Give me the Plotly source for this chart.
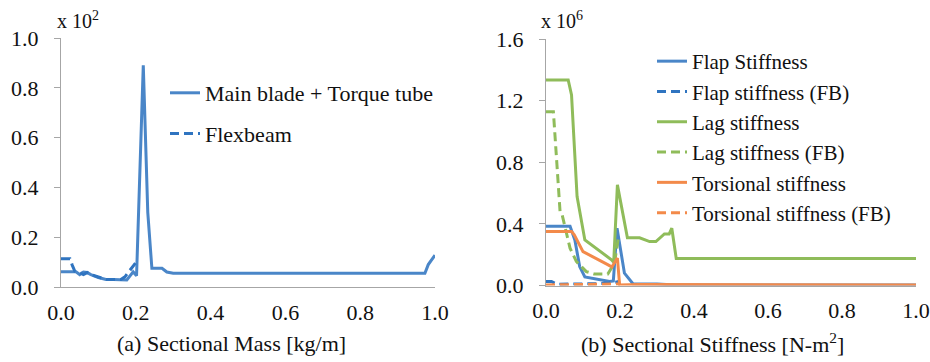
import plotly.graph_objects as go

# ---- (a) sectional mass, values in units of x10^2 kg/m ----
mass_main_r = [0.0, 0.04, 0.05, 0.06, 0.07, 0.08, 0.10, 0.12, 0.14, 0.16, 0.176,
               0.193, 0.202, 0.22, 0.232, 0.243, 0.27, 0.283, 0.30, 0.973, 0.982, 1.0]
mass_main = [0.061, 0.061, 0.05, 0.06, 0.058, 0.05, 0.038, 0.03, 0.03, 0.03, 0.028,
             0.061, 0.045, 0.89, 0.30, 0.075, 0.075, 0.06, 0.055, 0.055, 0.09, 0.128]

mass_flex_r = [0.0, 0.024, 0.03, 0.037, 0.05, 0.06, 0.07, 0.08, 0.10, 0.12, 0.14,
               0.16, 0.171, 0.18, 0.193, 0.20]
mass_flex = [0.113, 0.113, 0.088, 0.063, 0.058, 0.05, 0.058, 0.05, 0.04, 0.03, 0.03,
             0.03, 0.041, 0.06, 0.088, 0.098]

# ---- (b) sectional stiffness, values in units of x10^6 N-m^2 ----
flap_r = [0.0, 0.065, 0.078, 0.091, 0.105, 0.172, 0.182, 0.192, 0.212, 0.226, 0.235,
          0.30, 0.342, 0.35, 1.0]
flap = [0.385, 0.385, 0.296, 0.123, 0.055, 0.026, 0.03, 0.372, 0.08, 0.04, 0.012,
        0.01, 0.008, 0.003, 0.003]

flap_fb_r = [0.0, 0.015, 0.03, 0.06, 0.10, 0.14, 0.17, 0.19, 0.20]
flap_fb = [0.026, 0.026, 0.008, 0.008, 0.008, 0.012, 0.016, 0.022, 0.03]

lag_r = [0.0, 0.06, 0.069, 0.084, 0.105, 0.177, 0.183, 0.193, 0.22, 0.253, 0.28,
         0.297, 0.32, 0.333, 0.34, 0.352, 1.0]
lag = [1.334, 1.334, 1.237, 0.577, 0.296, 0.167, 0.15, 0.653, 0.31, 0.31, 0.285,
       0.285, 0.335, 0.335, 0.372, 0.175, 0.175]

lag_fb_r = [0.0, 0.02, 0.038, 0.043, 0.065, 0.082, 0.109, 0.13, 0.167, 0.185, 0.195]
lag_fb = [1.128, 1.128, 0.48, 0.465, 0.242, 0.156, 0.09, 0.075, 0.075, 0.145, 0.30]

tors_r = [0.0, 0.069, 0.076, 0.10, 0.168, 0.178, 0.193, 0.199, 0.25, 1.0]
tors = [0.35, 0.35, 0.33, 0.22, 0.134, 0.12, 0.178, 0.003, 0.006, 0.004]

tors_fb_r = [0.0, 0.05, 0.10, 0.15, 0.20]
tors_fb = [0.004, 0.004, 0.006, 0.008, 0.01]

x_ticks = [0.0, 0.2, 0.4, 0.6, 0.8, 1.0]
x_ticklabels = ["0.0", "0.2", "0.4", "0.6", "0.8", "1.0"]
mass_ticks = [0.0, 0.2, 0.4, 0.6, 0.8, 1.0]
stiff_ticks = [0.0, 0.4, 0.8, 1.2, 1.6]

BLUE = "#4a86c8"
BLUE_D = "#2f74c0"
GREEN = "#8fbc5a"
ORANGE = "#f38a4a"
AXIS = "#a6a6a6"
FONT = "Liberation Serif"
TXT = "#111111"
FS = 22
LW = 3
DASH = "9px,5px"

W, H = 930, 362


def px_x(p):
    return p / W


def px_y(p):
    return 1 - p / H


fig = go.Figure()

fig.add_trace(go.Scatter(x=mass_main_r, y=mass_main, mode="lines",
                         name="Main blade + Torque tube", legendgroup="a1",
                         line=dict(color=BLUE, width=LW), xaxis="x", yaxis="y",
                         legend="legend"))
fig.add_trace(go.Scatter(x=mass_flex_r, y=mass_flex, mode="lines",
                         name="Flexbeam", legendgroup="a2",
                         line=dict(color=BLUE_D, width=LW, dash=DASH),
                         xaxis="x", yaxis="y", legend="legend"))

stiff_series = [
    ("Flap Stiffness", flap_r, flap, BLUE, "solid"),
    ("Flap stiffness (FB)", flap_fb_r, flap_fb, BLUE_D, DASH),
    ("Lag stiffness", lag_r, lag, GREEN, "solid"),
    ("Lag stiffness (FB)", lag_fb_r, lag_fb, GREEN, DASH),
    ("Torsional stiffness", tors_r, tors, ORANGE, "solid"),
    ("Torsional stiffness (FB)", tors_fb_r, tors_fb, ORANGE, DASH),
]
for name, xr, yv, col, dash in stiff_series:
    fig.add_trace(go.Scatter(x=xr, y=yv, mode="lines", name=name,
                             line=dict(color=col, width=LW, dash=dash),
                             xaxis="x2", yaxis="y2", legend="legend2"))

tick_font = dict(family=FONT, size=FS, color=TXT)

common_x = dict(range=[0, 1.0], tickvals=x_ticks, ticktext=x_ticklabels,
                showline=True, linecolor=AXIS, linewidth=1.3, showgrid=False,
                zeroline=False, ticks="", tickfont=tick_font, automargin=False,
                ticklabelstandoff=5, fixedrange=True)
common_y = dict(showline=True, linecolor=AXIS, linewidth=1.3, showgrid=False,
                zeroline=False, ticks="outside", ticklen=6, tickcolor=AXIS,
                tickwidth=1.3, tickfont=tick_font, tickformat=".1f",
                automargin=False, ticklabelstandoff=11, fixedrange=True)

fig.update_layout(
    width=W, height=H,
    margin=dict(l=0, r=0, t=0, b=0),
    paper_bgcolor="white", plot_bgcolor="white",
    font=dict(family=FONT, size=FS, color=TXT),
    xaxis=dict(domain=[px_x(61), px_x(435)], anchor="y", **common_x),
    yaxis=dict(domain=[px_y(287), px_y(38)], anchor="x", range=[0, 1.0],
               tickvals=mass_ticks, **common_y),
    xaxis2=dict(domain=[px_x(546), px_x(916)], anchor="y2", **common_x),
    yaxis2=dict(domain=[px_y(285.5), px_y(39)], anchor="x2", range=[0, 1.6],
                tickvals=stiff_ticks, **common_y),
    legend=dict(x=px_x(165), y=px_y(72), xanchor="left", yanchor="top",
                bgcolor="rgba(0,0,0,0)", borderwidth=0,
                font=dict(family=FONT, size=FS, color=TXT),
                traceorder="grouped", tracegroupgap=9, itemwidth=30),
    legend2=dict(x=px_x(652), y=px_y(41), xanchor="left", yanchor="top",
                 bgcolor="rgba(0,0,0,0)", borderwidth=0,
                 font=dict(family=FONT, size=21, color=TXT),
                 traceorder="normal", itemwidth=30),
    showlegend=True,
    annotations=[
        dict(text="x 10<sup>2</sup>", x=px_x(55), y=px_y(20), xref="paper",
             yref="paper", xanchor="left", yanchor="middle", showarrow=False,
             font=dict(family=FONT, size=20, color=TXT)),
        dict(text="x 10<sup>6</sup>", x=px_x(539), y=px_y(20), xref="paper",
             yref="paper", xanchor="left", yanchor="middle", showarrow=False,
             font=dict(family=FONT, size=20, color=TXT)),
        dict(text="(a) Sectional Mass [kg/m]", x=px_x(231), y=px_y(343),
             xref="paper", yref="paper", xanchor="center", yanchor="middle",
             showarrow=False, font=dict(family=FONT, size=FS, color=TXT)),
        dict(text="(b) Sectional Stiffness [N-m<sup>2</sup>]", x=px_x(712),
             y=px_y(343), xref="paper", yref="paper", xanchor="center",
             yanchor="middle", showarrow=False,
             font=dict(family=FONT, size=FS, color=TXT)),
    ],
)

fig.write_html("out.html")
